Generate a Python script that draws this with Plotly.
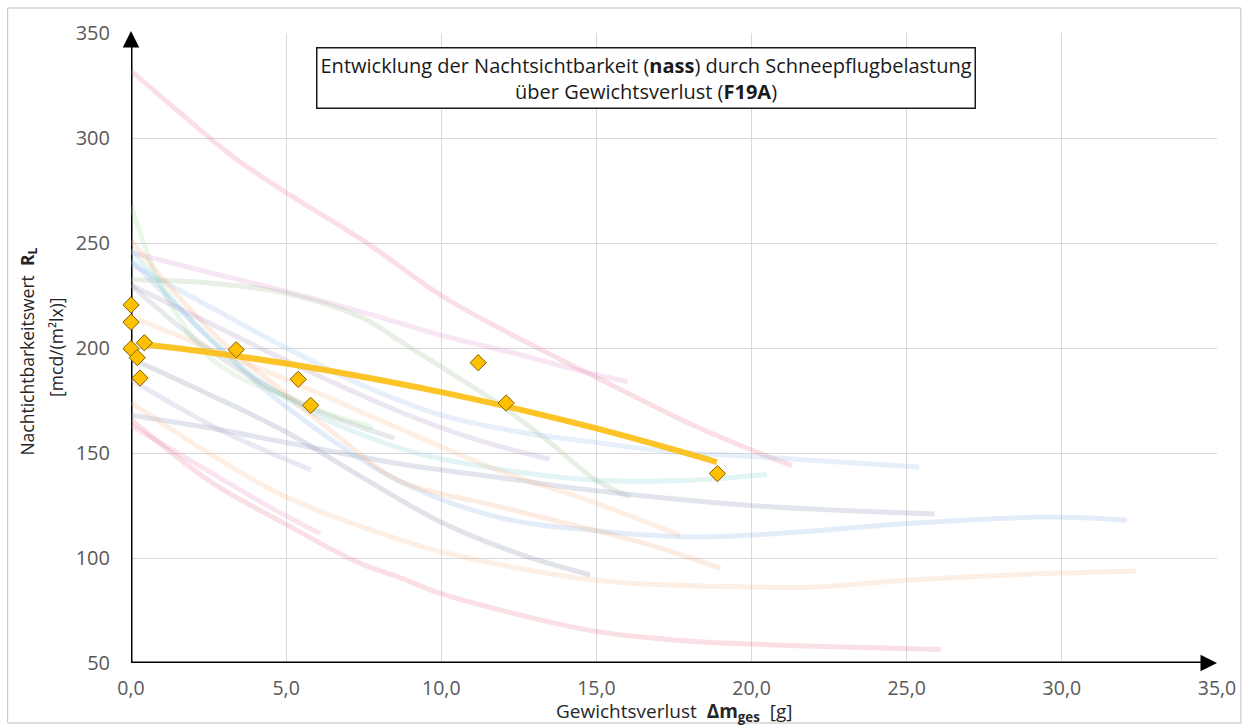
import plotly.graph_objects as go

# ---------------- data ----------------
x_ticks = [0, 5, 10, 15, 20, 25, 30, 35]
x_tick_labels = ["0,0", "5,0", "10,0", "15,0", "20,0", "25,0", "30,0", "35,0"]
y_ticks = [50, 100, 150, 200, 250, 300, 350]

# F19A measurements (nass)
f19a_x = [0.0, 0.0, 0.0, 0.2, 0.29, 0.43, 3.39, 5.39, 5.79, 11.19, 12.09, 18.9]
f19a_y = [220.5, 212.3, 199.7, 195.4, 185.7, 202.5, 199.2, 185.1, 172.7, 193.0, 173.8, 140.2]

# F19A trend line
trend_x = [0.45, 2.5, 5.0, 7.5, 10.0, 12.5, 15.0, 17.5, 18.88]
trend_y = [201.7, 198.0, 192.6, 186.2, 179.0, 170.8, 161.7, 151.6, 145.7]

# faint background trend curves (other products)
c01_x = [0, 1.5, 3.3, 5, 7.5, 10, 11.8, 15, 18, 19.9, 21.3]
c01_y = [332, 313, 291, 274, 251, 225, 210, 186, 164, 152, 144]
c02_x = [0, 2.5, 5, 7.5, 10, 12.5, 14.5, 16.0]
c02_y = [245.5, 236, 227, 217, 206, 197, 189, 184]
c03_x = [0, 2.5, 5, 7.5, 8.6, 10, 11.8, 13.5, 15, 16.1]
c03_y = [232.5, 231, 226, 214, 204, 191, 174, 155, 137, 129]
c04_x = [0, 0.8, 1.6, 2.5, 3.5, 5, 6.5, 7.8]
c04_y = [268, 235, 213, 196, 186, 177, 168, 162]
c05_x = [0, 2.5, 5, 7.5, 10, 12.5, 15, 17.2, 20.4, 25.4]
c05_y = [240, 220, 200, 182, 168, 160, 155, 151, 148, 143.3]
c06_x = [0, 2.5, 5, 8.6, 12, 15, 18, 20.5]
c06_y = [247, 205, 176, 152.6, 142, 137, 137, 139.8]
c07_x = [0, 2.5, 5, 8.6, 12, 15, 20, 25.9]
c07_y = [168, 162, 155, 145, 138, 132, 125, 121]
c08_x = [0, 2.5, 5, 8.6, 11.8, 15, 18.2, 22.1, 25, 29.5, 32.1]
c08_y = [242, 205, 172, 137, 119.5, 113, 110, 113, 116.4, 119.5, 118]
c09_x = [0, 2.5, 5, 8.6, 10, 15, 20, 22.1, 25, 29.5, 32.4]
c09_y = [174, 150, 129, 109, 103, 89.4, 86.2, 86.2, 89.4, 92.6, 93.7]
c10_x = [0, 2.5, 5, 7.3, 8.6, 10, 12.5, 15, 17.5, 20, 23, 26.1]
c10_y = [166, 137, 116, 98, 91, 83, 73, 65, 61, 59, 57.6, 56.4]
c11_x = [0, 1.5, 3.0, 4.5, 6.1]
c11_y = [163, 150, 137, 124, 111.6]
c12_x = [0, 2.5, 5, 7.5, 10, 12.5, 14.8]
c12_y = [195, 178, 160, 138, 117, 102, 92]
c13_x = [0, 1.5, 3, 5, 7, 8.6, 12, 15, 17, 19.0]
c13_y = [251, 225, 202, 178, 154, 137, 124, 113, 105, 95]
c14_x = [0, 2.5, 5, 8.6, 11.8, 15, 17.7]
c14_y = [215, 200, 185, 162, 142, 126, 110.8]
c15_x = [0, 2.5, 5, 8.6, 11, 13.5]
c15_y = [230, 212, 194, 170, 157, 147]
c16_x = [0, 2, 4, 6, 8.5]
c16_y = [230, 205, 185, 170, 157]
c17_x = [0, 1.5, 3, 4.5, 5.8]
c17_y = [185, 172, 160, 150, 142]

curve_colors = [
    "rgba(230,110,135,0.22)", "rgba(225,140,210,0.22)", "rgba(165,190,150,0.25)",
    "rgba(150,215,140,0.20)", "rgba(150,190,235,0.24)", "rgba(140,210,215,0.24)",
    "rgba(140,145,185,0.24)", "rgba(140,180,230,0.24)", "rgba(245,180,130,0.22)",
    "rgba(230,110,135,0.22)", "rgba(230,130,190,0.22)", "rgba(130,140,170,0.24)",
    "rgba(245,170,120,0.22)", "rgba(245,180,130,0.22)", "rgba(170,140,200,0.22)",
    "rgba(140,160,160,0.22)", "rgba(170,150,200,0.22)",
]

curves = [(c01_x, c01_y), (c02_x, c02_y), (c03_x, c03_y), (c04_x, c04_y), (c05_x, c05_y),
          (c06_x, c06_y), (c07_x, c07_y), (c08_x, c08_y), (c09_x, c09_y), (c10_x, c10_y),
          (c11_x, c11_y), (c12_x, c12_y), (c13_x, c13_y), (c14_x, c14_y), (c15_x, c15_y),
          (c16_x, c16_y), (c17_x, c17_y)]

# ---------------- figure ----------------
W, H = 1248, 725
ML, MR, MT, MB = 131, 25, 33, 62
PW, PH = W - ML - MR, H - MT - MB


def px2paper_x(px):
    return (px - ML) / PW


def px2paper_y(py):
    return (H - MB - py) / PH


FONT = "Open Sans"
fig = go.Figure()

for (cx, cy), col in zip(curves, curve_colors):
    fig.add_trace(go.Scatter(x=cx, y=cy, mode="lines", line=dict(color=col, width=5, shape="spline"),
                             hoverinfo="skip", showlegend=False))

fig.add_trace(go.Scatter(x=trend_x, y=trend_y, mode="lines",
                         line=dict(color="rgba(252,190,15,0.9)", width=6, shape="spline"),
                         showlegend=False))
fig.add_trace(go.Scatter(x=f19a_x, y=f19a_y, mode="markers", cliponaxis=False,
                         marker=dict(symbol="diamond", size=12.5, color="#FFC000",
                                     line=dict(color="#7F6000", width=1)),
                         showlegend=False))

annotations = [
    # y axis arrow head
    dict(x=px2paper_x(131), y=px2paper_y(31), ax=0, ay=14, xref="paper", yref="paper", text="",
         showarrow=True, arrowhead=2, arrowsize=1.1, arrowwidth=3, arrowcolor="black", standoff=0),
    # x axis arrow head
    dict(x=35, y=50, ax=-14, ay=0, xref="x", yref="y", text="",
         showarrow=True, arrowhead=2, arrowsize=1.1, arrowwidth=3, arrowcolor="black", standoff=0),
    # title box
    dict(x=px2paper_x(648.5), y=px2paper_y(78), xref="paper", yref="paper",
         xanchor="center", yanchor="middle", showarrow=False, align="center",
         text="Entwicklung der Nachtsichtbarkeit (<b>nass</b>) durch Schneepflugbelastung<br>"
              "über Gewichtsverlust (<b>F19A</b>)",
         font=dict(family=FONT, size=20, color="#1a1a1a"),
         bordercolor="#1a1a1a", borderwidth=1.5, borderpad=3, bgcolor="white"),
    # y title lines
    dict(x=px2paper_x(27), y=px2paper_y(352), xref="paper", yref="paper", textangle=-90,
         xanchor="center", yanchor="middle", showarrow=False,
         text="Nachtichtbarkeitswert  <b>R</b><sub><b>L</b></sub>",
         font=dict(family=FONT, size=17.5, color="#262626")),
    dict(x=px2paper_x(55), y=px2paper_y(347.5), xref="paper", yref="paper", textangle=-90,
         xanchor="center", yanchor="middle", showarrow=False,
         text="[mcd/(m²lx)]",
         font=dict(family=FONT, size=17.5, color="#262626")),
    # x title
    dict(x=px2paper_x(677), y=px2paper_y(712), xref="paper", yref="paper",
         xanchor="center", yanchor="middle", showarrow=False,
         text="Gewichtsverlust  <b>Δm</b><sub><b>ges</b></sub>  [g]",
         font=dict(family=FONT, size=19, color="#262626")),
]

shapes = [
    dict(type="rect", xref="paper", yref="paper",
         x0=px2paper_x(7), x1=px2paper_x(1247), y0=px2paper_y(723), y1=px2paper_y(8),
         line=dict(color="#BFBFBF", width=1), fillcolor="rgba(0,0,0,0)", layer="below"),
    # axis lines (drawn below the data markers)
    dict(type="line", xref="x", yref="y", x0=0, x1=0, y0=50, y1=346,
         line=dict(color="black", width=3), layer="between"),
    dict(type="line", xref="x", yref="y", x0=0, x1=34.7, y0=50, y1=50,
         line=dict(color="black", width=3), layer="between"),
]

fig.update_layout(
    width=W, height=H,
    margin=dict(l=ML, r=MR, t=MT, b=MB),
    paper_bgcolor="white", plot_bgcolor="white",
    showlegend=False,
    annotations=annotations,
    shapes=shapes,
    xaxis=dict(range=[0, 35], tickvals=x_ticks, ticktext=x_tick_labels,
               showgrid=True, gridcolor="#D9D9D9", gridwidth=1, zeroline=False,
               showline=False, ticks="", ticklabelstandoff=11,
               tickfont=dict(family=FONT, size=19.5, color="#595959")),
    yaxis=dict(range=[50, 350], tickvals=y_ticks,
               showgrid=True, gridcolor="#D9D9D9", gridwidth=1, zeroline=False,
               showline=False, ticks="", ticklabelstandoff=20,
               tickfont=dict(family=FONT, size=20, color="#595959")),
)

fig.write_html("out.html", config={"displayModeBar": False},
               post_script="document.body.style.margin='0';document.body.style.overflow='hidden';")
